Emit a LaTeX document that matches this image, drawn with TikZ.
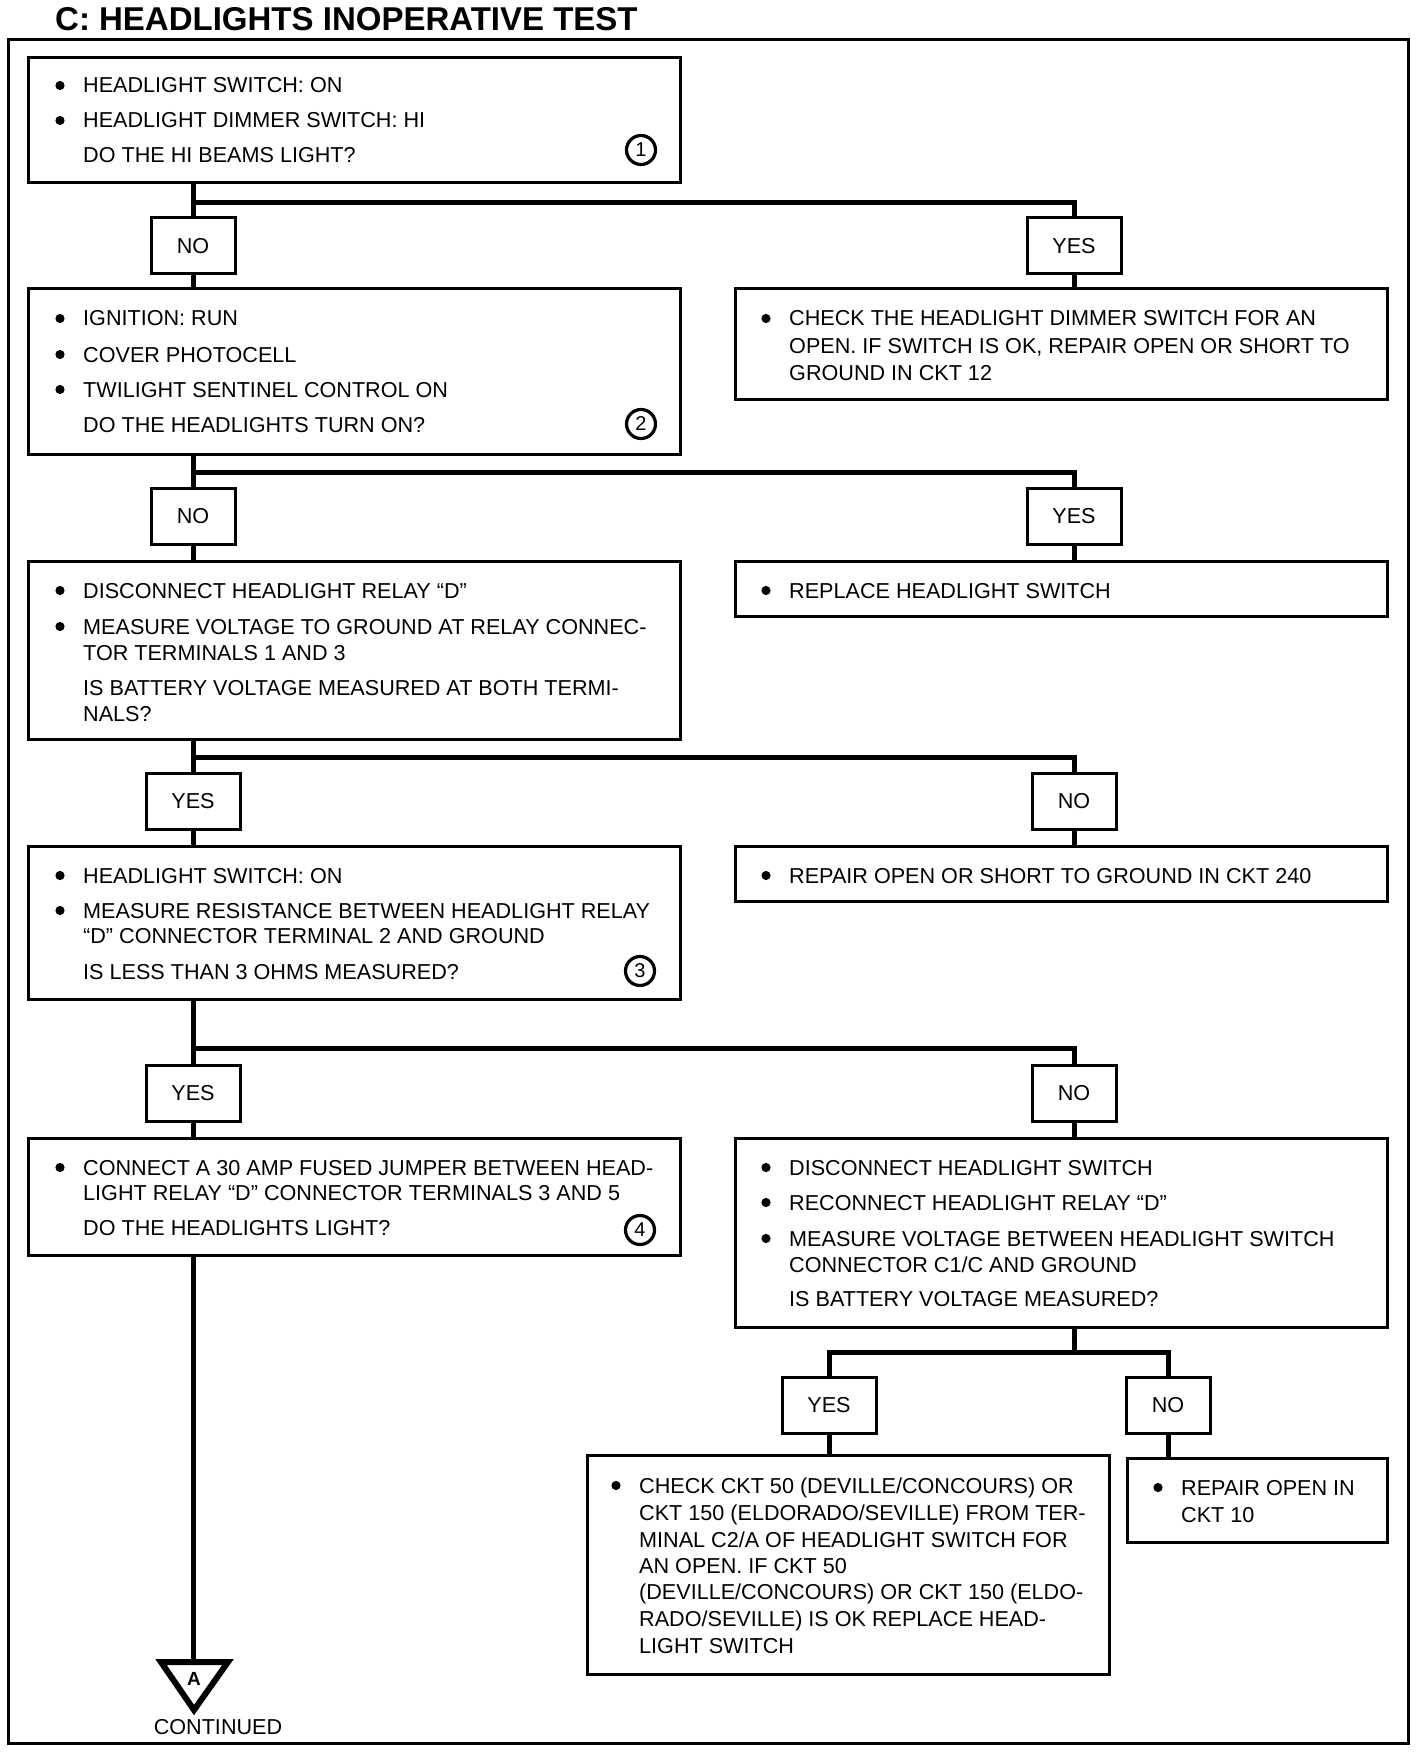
\documentclass[tikz,border=0pt]{standalone}
\usepackage{fontspec}
\setmainfont{Liberation Sans}
\newcommand\fs{\fontsize{21.6}{26}\selectfont}
\tikzset{
  box/.style={draw, line width=3pt, inner sep=0pt, outer sep=0pt},
  yn/.style={draw, line width=3pt, minimum height=56pt, inner sep=0pt, outer sep=0pt, font=\fs},
  conn/.style={line width=5pt, line join=miter},
  txt/.style={inner sep=0pt, anchor=base west, font=\fs},
  num/.style={draw, circle, line width=3.2pt, minimum size=29pt, inner sep=0pt, font=\fontsize{20}{22}\selectfont},
}
\newcommand\mkbox[5]{%
  \node[box, minimum width={(#4-#2)*1pt}, minimum height={(#5-#3)*1pt}] (#1) at ({(#2+#4)/2},{(#3+#5)/2}) {};}
\newcommand\txtline[4]{\node[txt] (#1) at (#2,#3) {#4};}
\newcommand\bline[4]{\fill (#2-23,#3-7.5) circle[radius=4.6];\node[txt] (#1) at (#2,#3) {#4};}
\begin{document}
\begin{tikzpicture}[x=1pt,y=-1pt]
\useasboundingbox (0,0) rectangle (1424,1752);
% title and frame
\node[inner sep=0pt, anchor=base west, font=\fontsize{33}{36}\selectfont\bfseries] (title) at (55,31) {C: HEADLIGHTS INOPERATIVE TEST};
\draw[line width=3pt] (8,40) rectangle (1408,1743);
% boxes
\mkbox{b1}{28}{58}{680}{183}
\mkbox{b2}{28}{289}{680}{454}
\mkbox{r1}{735}{289}{1387}{399}
\mkbox{b3}{28}{561}{680}{739}
\mkbox{r2}{735}{561}{1387}{616}
\mkbox{b4}{28}{846}{680}{999}
\mkbox{r3}{735}{846}{1387}{901}
\mkbox{b5}{28}{1138}{680}{1255}
\mkbox{r4}{735}{1138}{1387}{1327}
\mkbox{b6}{587}{1455}{1109}{1674}
\mkbox{b7}{1127}{1458}{1387}{1542}
% yes/no
\node[yn, minimum width=84pt] (no1) at (193,246) {NO};
\node[yn, minimum width=94pt] (yes1) at (1074,246) {YES};
\node[yn, minimum width=84pt] (no2) at (193,516) {NO};
\node[yn, minimum width=94pt] (yes2) at (1074,516) {YES};
\node[yn, minimum width=94pt] (yes3) at (193,801) {YES};
\node[yn, minimum width=84pt] (no3) at (1074,801) {NO};
\node[yn, minimum width=94pt] (yes4) at (193,1093) {YES};
\node[yn, minimum width=84pt] (no4) at (1074,1093) {NO};
\node[yn, minimum width=94pt] (yes5) at (829,1405) {YES};
\node[yn, minimum width=84pt] (no5) at (1168,1405) {NO};
% junction levels
\coordinate (j1) at (0,203);
\coordinate (j2) at (0,472);
\coordinate (j3) at (0,757);
\coordinate (j4) at (0,1048);
\coordinate (j5) at (0,1352);
\coordinate (tritop) at (193,1662);
% texts box1
\bline{t1a}{83}{93}{HEADLIGHT SWITCH: ON}
\bline{t1b}{83}{128}{HEADLIGHT DIMMER SWITCH: HI}
\txtline{t1c}{83}{163}{DO THE HI BEAMS LIGHT?}
\node[num] (n1) at (641,150) {1};
% box2
\bline{t2a}{83}{326}{IGNITION: RUN}
\bline{t2b}{83}{362}{COVER PHOTOCELL}
\bline{t2c}{83}{397}{TWILIGHT SENTINEL CONTROL ON}
\txtline{t2d}{83}{432}{DO THE HEADLIGHTS TURN ON?}
\node[num] (n2) at (641,424) {2};
% r1
\bline{r1a}{789}{326}{CHECK THE HEADLIGHT DIMMER SWITCH FOR AN}
\txtline{r1b}{789}{353}{OPEN. IF SWITCH IS OK, REPAIR OPEN OR SHORT TO}
\txtline{r1c}{789}{380}{GROUND IN CKT 12}
% box3
\bline{t3a}{83}{598}{DISCONNECT HEADLIGHT RELAY “D”}
\bline{t3b}{83}{634}{MEASURE VOLTAGE TO GROUND AT RELAY CONNEC-}
\txtline{t3c}{83}{660}{TOR TERMINALS 1 AND 3}
\txtline{t3d}{83}{695}{IS BATTERY VOLTAGE MEASURED AT BOTH TERMI-}
\txtline{t3e}{83}{721}{NALS?}
% r2
\bline{r2a}{789}{598}{REPLACE HEADLIGHT SWITCH}
% box4
\bline{t4a}{83}{883}{HEADLIGHT SWITCH: ON}
\bline{t4b}{83}{918}{MEASURE RESISTANCE BETWEEN HEADLIGHT RELAY}
\txtline{t4c}{83}{943}{“D” CONNECTOR TERMINAL 2 AND GROUND}
\txtline{t4d}{83}{979}{IS LESS THAN 3 OHMS MEASURED?}
\node[num] (n3) at (640,971) {3};
% r3
\bline{r3a}{789}{883}{REPAIR OPEN OR SHORT TO GROUND IN CKT 240}
% box5
\bline{t5a}{83}{1175}{CONNECT A 30 AMP FUSED JUMPER BETWEEN HEAD-}
\txtline{t5b}{83}{1200}{LIGHT RELAY “D” CONNECTOR TERMINALS 3 AND 5}
\txtline{t5c}{83}{1235}{DO THE HEADLIGHTS LIGHT?}
\node[num] (n4) at (640,1230) {4};
% r4
\bline{r4a}{789}{1175}{DISCONNECT HEADLIGHT SWITCH}
\bline{r4b}{789}{1210}{RECONNECT HEADLIGHT RELAY “D”}
\bline{r4c}{789}{1246}{MEASURE VOLTAGE BETWEEN HEADLIGHT SWITCH}
\txtline{r4d}{789}{1272}{CONNECTOR C1/C AND GROUND}
\txtline{r4e}{789}{1306}{IS BATTERY VOLTAGE MEASURED?}
% box6
\bline{t6a}{639}{1493}{CHECK CKT 50 (DEVILLE/CONCOURS) OR}
\txtline{t6b}{639}{1520}{CKT 150 (ELDORADO/SEVILLE) FROM TER-}
\txtline{t6c}{639}{1547}{MINAL C2/A OF HEADLIGHT SWITCH FOR}
\txtline{t6d}{639}{1573}{AN OPEN. IF CKT 50}
\txtline{t6e}{639}{1599}{(DEVILLE/CONCOURS) OR CKT 150 (ELDO-}
\txtline{t6f}{639}{1626}{RADO/SEVILLE) IS OK REPLACE HEAD-}
\txtline{t6g}{639}{1653}{LIGHT SWITCH}
% box7
\bline{t7a}{1181}{1495}{REPAIR OPEN IN}
\txtline{t7b}{1181}{1522}{CKT 10}
% connectors
\draw[conn] (no1.north |- b1.south) -- (no1.north);
\draw[conn] (no1.south) -- (no1.south |- b2.north);
\draw[conn] (no1.north |- j1) -| (yes1.north);
\draw[conn] (yes1.south) -- (yes1.south |- r1.north);
\draw[conn] (no2.north |- b2.south) -- (no2.north);
\draw[conn] (no2.south) -- (no2.south |- b3.north);
\draw[conn] (no2.north |- j2) -| (yes2.north);
\draw[conn] (yes2.south) -- (yes2.south |- r2.north);
\draw[conn] (yes3.north |- b3.south) -- (yes3.north);
\draw[conn] (yes3.south) -- (yes3.south |- b4.north);
\draw[conn] (yes3.north |- j3) -| (no3.north);
\draw[conn] (no3.south) -- (no3.south |- r3.north);
\draw[conn] (yes4.north |- b4.south) -- (yes4.north);
\draw[conn] (yes4.south) -- (yes4.south |- b5.north);
\draw[conn] (yes4.north |- j4) -| (no4.north);
\draw[conn] (no4.south) -- (no4.south |- r4.north);
\draw[conn] (no4.south |- r4.south) -- (no4.south |- j5);
\draw[conn] (yes5.north) -- (yes5.north |- j5) -- (no5.north |- j5) -- (no5.north);
\draw[conn] (yes5.south) -- (yes5.south |- b6.north);
\draw[conn] (no5.south) -- (no5.south |- b7.north);
\draw[conn] (yes4.south |- b5.south) -- (tritop);
% continuation triangle
\draw[line width=6pt, line join=miter] (161,1662) -- (228,1662) -- (194,1710) -- cycle;
\node[inner sep=0pt, font=\fontsize{19}{20}\selectfont\bfseries] (A) at (194,1679) {A};
\node[inner sep=0pt, anchor=base, font=\fs] (cont) at (218,1734) {CONTINUED};
\end{tikzpicture}
\end{document}
